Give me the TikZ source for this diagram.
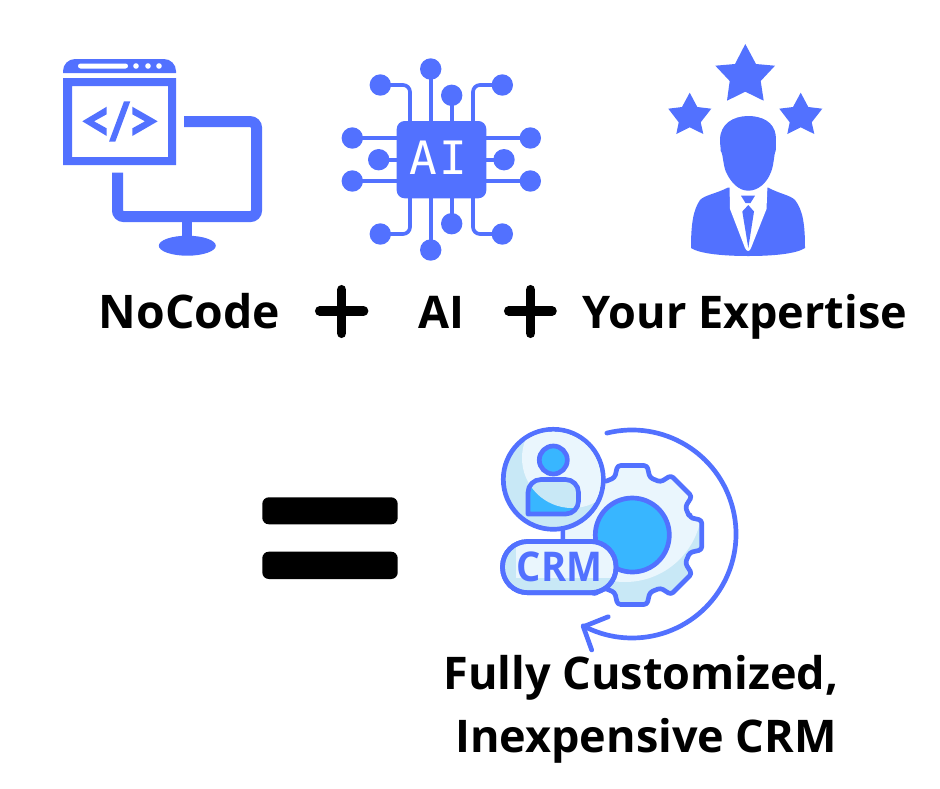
\documentclass[tikz,border=0pt]{standalone}
\usepackage{fontspec}
\setmainfont{Open Sans}
\newfontfamily\chipfont{DejaVu Sans Mono}
\newfontfamily\pillfont[FakeStretch=0.93]{Open Sans}
\usepackage{xcolor}
\definecolor{iconblue}{HTML}{5271FF}
\definecolor{discblue}{HTML}{38B6FF}
\definecolor{palesky}{HTML}{EAF6FD}
\definecolor{shadesky}{HTML}{C8E8F6}
\newcommand{\gearpath}{(632.3,535) ++(-17:60)
	\foreach \a in {0,45,...,315} { -- ($(632.3,535)+(\a-17:60)$) -- ($(632.3,535)+(\a-12:71)$) -- ($(632.3,535)+(\a+12:71)$) -- ($(632.3,535)+(\a+17:60)$) } -- cycle}
\usetikzlibrary{calc}

\begin{document}
\begin{tikzpicture}[x=1pt,y=-1pt,
	caption/.style={font=\fontsize{45}{50}\selectfont\bfseries, text=black, inner sep=0pt, anchor=base},
	flat/.style={fill=iconblue, draw=none},
	pin/.style={draw=iconblue, line width=3.7pt, rounded corners=7pt},
	dot/.style={fill=iconblue, draw=none},
	sign/.style={line width=9.5pt, line cap=round, draw=black},
	bar/.style={fill=black, rounded corners=6.5pt},
	outline/.style={draw=iconblue, line width=4.7pt, line join=round}]
	\useasboundingbox (0,0) rectangle (940,788);

	% browser and monitor
	\path[flat] (63,73) -- (63,71) arc[start angle=180, end angle=270, radius=12] -- (164,59) arc[start angle=270, end angle=360, radius=12] -- (176,73) -- cycle;
	\fill[white, rounded corners=2.5pt] (78,63.5) rectangle (128,68.5);
	\foreach \x in {136,148,159} \fill[white] (\x,66) circle (2.8);
	\path[flat, even odd rule] (63,78) rectangle (176,165) (72,86) rectangle (168,157);
	\path[flat] (106.7,106.7) -- (82.3,121.3) -- (106.7,136) -- (106.7,128.3) -- (94,121.3) -- (106.7,114.3) -- cycle;
	\path[flat] (132.3,106.7) -- (157.7,121.3) -- (132.3,136) -- (132.3,128.3) -- (145,121.3) -- (132.3,114.3) -- cycle;
	\path[flat] (124,101.3) -- (130.3,101.3) -- (115.3,141.7) -- (109,141.7) -- cycle;
	\draw[iconblue, line width=11pt, rounded corners=6pt] (184,121.7) -- (256.5,121.7) -- (256.5,216.5) -- (117.5,216.5) -- (117.5,172.7);
	\path[flat] (182.3,220) rectangle (192.3,238);
	\path[flat] (187.3,245.7) ellipse [x radius=28.5, y radius=10];

	% chip
	\foreach \x/\y in {430.7/69, 451.7/95.3, 430.7/250, 451.7/223.7}
		\draw[pin] (\x,\y) -- (\x,160);
	\foreach \x/\y in {352.3/138, 352.3/181, 530.3/138, 530.3/181, 378.7/159.7, 504/159.7}
		\draw[pin] (\x,\y) -- (440,\y);
	\draw[pin] (380.3,85) -- (410,85) -- (410,130);
	\draw[pin] (502.3,85) -- (473,85) -- (473,130);
	\draw[pin] (380.3,234) -- (410,234) -- (410,190);
	\draw[pin] (502.3,234) -- (473,234) -- (473,190);
	\foreach \x/\y in {430.7/69, 380.3/85, 451.7/95.3, 502.3/85, 352.3/138, 378.7/159.7, 352.3/181, 530.3/138, 504/159.7, 530.3/181, 380.3/234, 451.7/223.7, 430.7/250, 502.3/234}
		\path[dot] (\x,\y) circle (10.7);
	\path[flat, rounded corners=8pt] (396.7,121) rectangle (486.3,198.3);
	\node[inner sep=0pt, text=white, font=\fontsize{46}{46}\chipfont] (chip) at (438.5,158) {A\hspace{3pt}I};

	% stars and person
	\path[flat] (745.3,44) -- (756,64) -- (775,65.7) -- (760.7,81) -- (763.7,100.7) -- (745.3,91.7) -- (727,100.7) -- (729.7,81) -- (715.3,65.7) -- (735,64) -- cycle;
	\foreach \d in {0,111}
		\path[flat, xshift=\d] (689.7,92.7) -- (697.3,107) -- (711.3,108.7) -- (700.7,122.3) -- (703.3,134) -- (689.7,127.3) -- (676.3,134) -- (678.7,122.3) -- (668.3,108.7) -- (682,107) -- cycle;
	\path[flat] (727.7,187.7) .. controls (715,194) and (705,195) .. (700,200) .. controls (693,210) and (691,225) .. (691,248) .. controls (700,254) and (725,256) .. (748.3,256) .. controls (772,256) and (796,254) .. (805,248) .. controls (805,225) and (803,210) .. (795,200) .. controls (790,195) and (780,194) .. (768.3,187.7) -- cycle;
	\fill[white] (729.5,185) -- (730,209) -- (745,248) .. controls (747,252) and (749.5,252) .. (751,248) -- (766.5,209) -- (767.5,185) -- cycle;
	\path[flat] (741,195.7) -- (755,195.7) -- (750.5,203) -- (745.5,203) -- cycle;
	\path[flat] (748.3,205) -- (754,211.5) -- (748.3,248) -- (742.3,211.5) -- cycle;
	\path[flat] (748.3,116) .. controls (733,116) and (720,124) .. (720,140) .. controls (720,146) and (721,148) .. (720.7,151) .. controls (723,153) and (723,165) .. (726,172) .. controls (731,183) and (739,190.7) .. (748.3,190.7) .. controls (758,190.7) and (767,183) .. (771,172) .. controls (774,165) and (774,153) .. (775.7,151) .. controls (776,147) and (776,142) .. (775.7,135) .. controls (774,122) and (762,116) .. (748.3,116) -- cycle;

	% captions
	\node[caption, font=\fontsize{46.3}{50}\selectfont\bfseries] (nocode) at (189.5,328) {NoCode};
	\node[caption] (ai) at (441,328) {AI};
	\node[caption] (expertise) at (745,328) {Your Expertise};
	\draw[sign] (341.7,289.7) -- (341.7,333.3);
	\draw[sign] (319.7,311) -- (363.6,311);
	\draw[sign] (530.5,289.7) -- (530.5,333.3);
	\draw[sign] (508.7,311) -- (552,311);

	% equals
	\path[bar] (262.3,497.3) rectangle (397.7,524.3);
	\path[bar] (262.3,551.7) rectangle (397.7,579);

	% crm icon
	\draw[outline, line cap=round] (632,534) ++(-104:104) arc[start angle=-104, end angle=118, radius=104];
	\draw[outline, line cap=round] (608.3,616.7) -- (583.3,626.7) -- (591.7,650);
	\fill[shadesky, rounded corners=3pt] \gearpath;
	\begin{scope}
		\clip \gearpath;
		\fill[palesky] (625,505) circle (77);
	\end{scope}
	\draw[outline, rounded corners=3pt] \gearpath;
	\draw[outline, fill=discblue] (632.3,535) circle (37);
	\draw[outline] (563,530) -- (563,542);
	\draw[outline, fill=shadesky] (553.3,479.3) circle (50);
	\begin{scope}
		\clip (553.3,479.3) circle (47.6);
		\fill[palesky] (572,458) circle (50);
	\end{scope}
	\draw[outline, fill=discblue] (553.3,460) circle (14);
	\fill[discblue, rounded corners=13pt] (528,515) -- (528,479) -- (578.5,479) -- (578.5,515) [sharp corners] -- cycle;
	\begin{scope}
		\clip[rounded corners=13pt] (528,540) -- (528,479) -- (578.5,479) -- (578.5,540) -- cycle;
		\fill[shadesky] (572,458) circle (50);
	\end{scope}
	\draw[outline, rounded corners=13pt] (528,514) -- (528,479.5) -- (578.5,479.5) -- (578.5,514) [sharp corners] -- cycle;
	\draw[outline, fill=shadesky, rounded corners=25pt] (502.5,541.5) rectangle (616,592.7);
	\begin{scope}
		\clip[rounded corners=23pt] (505,544) rectangle (613.5,590.3);
		\fill[palesky] (516,542) rectangle (620,578);
	\end{scope}
	\draw[outline, rounded corners=25pt] (502.5,541.5) rectangle (616,592.7);
	\node[inner sep=0pt, text=iconblue, font=\fontsize{41}{41}\pillfont\bfseries] (crm) at (559.5,566.5) {CRM};
	\node[font=\fontsize{45}{63}\selectfont\bfseries, align=center, inner sep=0pt, anchor=base] (result) at (646,752) {Fully Customized,\hspace*{10pt}\\ Inexpensive CRM};
\end{tikzpicture}
\end{document}
